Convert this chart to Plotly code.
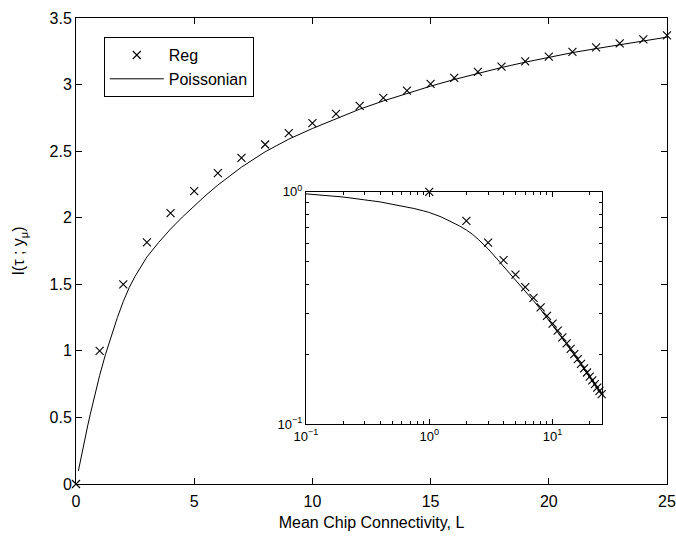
import plotly.graph_objects as go

# Reg (markers)
reg_L = list(range(0, 26))
reg_I = [0.0, 1.0, 1.5, 1.815, 2.035, 2.20, 2.335, 2.45, 2.55, 2.635, 2.71, 2.78, 2.84,
         2.90, 2.955, 3.005, 3.05, 3.095, 3.135, 3.175, 3.21, 3.245, 3.28, 3.31, 3.34, 3.37]

# Poissonian (line)
poi_L = [0.1, 0.2, 0.3, 0.4, 0.5, 0.6, 0.75, 0.9, 1.0, 1.25, 1.5, 1.75, 2.0, 2.25, 2.5,
         2.75, 3.0, 3.5, 4.0, 4.5, 5.0, 5.5, 6.0, 7.0, 8.0, 9.0, 10.0, 11.0, 12.0, 13.0,
         14.0, 15.0, 16.0, 17.0, 18.0, 19.0, 20.0, 21.0, 22.0, 23.0, 24.0, 25.0]
poi_I = [0.098, 0.19, 0.277, 0.362, 0.442, 0.521, 0.636, 0.745, 0.815, 0.975, 1.117,
         1.25, 1.37, 1.475, 1.56, 1.635, 1.705, 1.815, 1.915, 2.005, 2.09, 2.17, 2.245,
         2.38, 2.495, 2.59, 2.67, 2.745, 2.815, 2.877, 2.933, 2.988, 3.038, 3.084, 3.128,
         3.168, 3.205, 3.24, 3.27, 3.30, 3.33, 3.356]

main_xticks = [0, 5, 10, 15, 20, 25]
main_yticks = [0, 0.5, 1, 1.5, 2, 2.5, 3, 3.5]
main_yticklabels = ["0", "0.5", "1", "1.5", "2", "2.5", "3", "3.5"]
inset_xticks = [0.1, 1, 10]
inset_xticklabels = ["10<sup>−1</sup>", "10<sup>0</sup>", "10<sup>1</sup>"]
inset_yticks = [0.1, 1]
inset_yticklabels = ["10<sup>−1</sup>", "10<sup>0</sup>"]

FONT = "Liberation Sans, Arial, Helvetica, sans-serif"
FS = 16

fig = go.Figure()
fig.add_trace(go.Scatter(x=reg_L, y=reg_I, mode="markers", name="Reg",
                         marker=dict(symbol="x-thin", size=8, color="black",
                                     line=dict(width=1.1, color="black")),
                         cliponaxis=False))
fig.add_trace(go.Scatter(x=poi_L, y=poi_I, mode="lines", name="Poissonian",
                         line=dict(color="black", width=1)))

# inset: I / L on log-log axes
reg_ratio_L = [l for l in reg_L if l > 0]
reg_ratio = [i / l for i, l in zip(reg_I, reg_L) if l > 0]
poi_ratio = [i / l for i, l in zip(poi_I, poi_L)]
fig.add_trace(go.Scatter(x=reg_ratio_L, y=reg_ratio, mode="markers", showlegend=False,
                         xaxis="x2", yaxis="y2",
                         marker=dict(symbol="x-thin", size=8, color="black",
                                     line=dict(width=1.1, color="black")),
                         cliponaxis=False))
fig.add_trace(go.Scatter(x=poi_L, y=poi_ratio, mode="lines", showlegend=False,
                         xaxis="x2", yaxis="y2",
                         line=dict(color="black", width=1)))

axis_common = dict(showgrid=False, zeroline=False, showline=True, linecolor="black",
                   linewidth=1, mirror="ticks", ticks="inside", tickcolor="black",
                   ticklen=6, tickfont=dict(family=FONT, size=FS, color="black"))

inset_common = dict(type="log", showgrid=False, zeroline=False, showline=True,
                    linecolor="black", linewidth=1, mirror="ticks", ticks="inside",
                    ticklen=5, tickcolor="black",
                    minor=dict(ticks="inside", ticklen=3, tickcolor="black",
                               showgrid=False, dtick="D1"),
                    tickfont=dict(family=FONT, size=13, color="black"))

fig.update_layout(
    width=676, height=537,
    margin=dict(l=76, r=9, t=18, b=53, autoexpand=False),
    paper_bgcolor="white", plot_bgcolor="white",
    font=dict(family=FONT, size=FS, color="black"),
    xaxis=dict(range=[0, 25], tickvals=main_xticks, domain=[0, 1],
               ticklabelstandoff=3,
               title=dict(text="Mean Chip Connectivity, L", standoff=7,
                          font=dict(family=FONT, size=FS)),
               **axis_common),
    yaxis=dict(range=[0, 3.5], tickvals=main_yticks, ticktext=main_yticklabels,
               domain=[0, 1],
               title=dict(text="I(τ ; y<sub>μ</sub>)", standoff=20,
                          font=dict(family=FONT, size=FS)),
               **axis_common),
    xaxis2=dict(range=[-1, 1.398], domain=[0.389, 0.8895], anchor="y2",
                tickvals=inset_xticks, ticktext=inset_xticklabels, **inset_common),
    yaxis2=dict(range=[-1, 0], domain=[0.128, 0.627], anchor="x2",
                tickvals=inset_yticks, ticktext=inset_yticklabels, **inset_common),
    legend=dict(x=0.047, y=0.959, xanchor="left", yanchor="top",
                bgcolor="white", bordercolor="black", borderwidth=1,
                font=dict(family=FONT, size=FS, color="black"),
                itemwidth=54, tracegroupgap=0),
    showlegend=True,
)

fig.write_html("out.html", post_script="document.body.style.margin='0';",
               config={"displayModeBar": False})
